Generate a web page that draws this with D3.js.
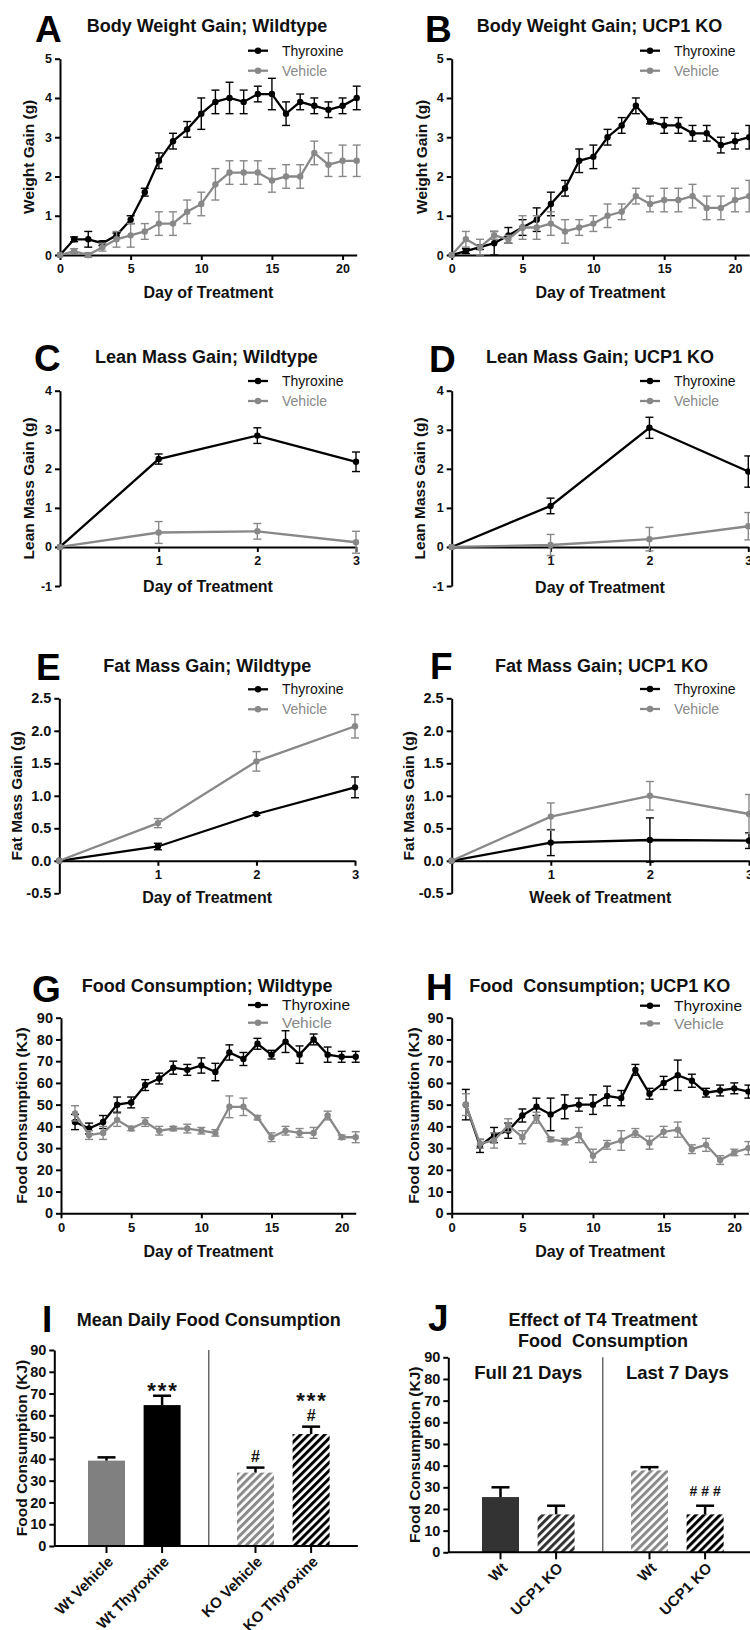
<!DOCTYPE html>
<html>
<head>
<meta charset="utf-8">
<script src="https://cdn.jsdelivr.net/npm/d3@7/dist/d3.min.js"></script>
<style>
  body { margin: 0; background: #fff; }
  svg { display: block; font-family: "Liberation Sans", Arial, sans-serif; }
</style>
</head>
<body>
<svg id="canvas" width="750" height="1630"></svg>
<script>
const canvas = d3.select("#canvas");

// ---- data ----
const days0 = [0,1,2,3,4,5,6,7,8,9,10,11,12,13,14,15,16,17,18,19,20,21];
const days1 = [1,2,3,4,5,6,7,8,9,10,11,12,13,14,15,16,17,18,19,20,21];
const weeks = [0,1,2,3];

// A: body weight gain, wildtype
const aThy    = [0,0.4,0.4,0.3,0.5,0.9,1.6,2.4,2.9,3.2,3.6,3.9,4.0,3.9,4.1,4.1,3.6,3.9,3.8,3.7,3.8,4.0];
const aThyErr = [0,0.06,0.2,0.06,0.06,0.1,0.1,0.2,0.2,0.2,0.4,0.3,0.4,0.3,0.2,0.4,0.3,0.2,0.2,0.2,0.2,0.3];
const aVeh    = [0,0.1,0,0.2,0.4,0.5,0.6,0.8,0.8,1.1,1.3,1.8,2.1,2.1,2.1,1.9,2.0,2.0,2.6,2.3,2.4,2.4];
const aVehErr = [0,0.06,0.06,0.1,0.2,0.3,0.2,0.3,0.3,0.3,0.3,0.4,0.3,0.3,0.3,0.3,0.3,0.3,0.3,0.3,0.4,0.4];

// B: body weight gain, UCP1 KO
const bThy    = [0,0.1,0.2,0.3,0.5,0.7,0.9,1.3,1.7,2.4,2.5,3.0,3.3,3.8,3.4,3.3,3.3,3.1,3.1,2.8,2.9,3.0];
const bThyErr = [0,0.06,0.06,0.3,0.2,0.2,0.3,0.3,0.2,0.3,0.3,0.2,0.2,0.2,0.06,0.2,0.2,0.2,0.2,0.2,0.2,0.3];
const bVeh    = [0,0.4,0.2,0.5,0.4,0.7,0.7,0.8,0.6,0.7,0.8,1.0,1.1,1.5,1.3,1.4,1.4,1.5,1.2,1.2,1.4,1.5];
const bVehErr = [0,0.2,0.2,0.1,0.1,0.3,0.3,0.3,0.3,0.2,0.2,0.3,0.2,0.2,0.2,0.3,0.3,0.3,0.3,0.3,0.3,0.4];

// C: lean mass gain, wildtype
const cThy    = [0,2.25,2.85,2.18];
const cThyErr = [0,0.13,0.2,0.25];
const cVeh    = [0,0.37,0.4,0.12];
const cVehErr = [0,0.28,0.2,0.28];

// D: lean mass gain, UCP1 KO
const dThy    = [0,1.05,3.05,1.93];
const dThyErr = [0,0.2,0.27,0.4];
const dVeh    = [0,0.05,0.2,0.53];
const dVehErr = [0,0.27,0.3,0.35];

// E: fat mass gain, wildtype
const eThy    = [0,0.22,0.72,1.13];
const eThyErr = [0,0.05,0.02,0.16];
const eVeh    = [0,0.58,1.53,2.07];
const eVehErr = [0,0.07,0.15,0.18];

// F: fat mass gain, UCP1 KO
const fThy    = [0,0.28,0.32,0.31];
const fThyErr = [0,0.2,0.34,0.12];
const fVeh    = [0,0.68,1.0,0.72];
const fVehErr = [0,0.21,0.22,0.3];

// G: food consumption, wildtype
const gThy    = [42,39,42,50,51,59,62,67,66,68,65,74,71,78,73,79,73,80,73,72,72];
const gThyErr = [3.5,2.5,3,3.5,2.5,2.5,2.5,3,2.5,3.5,4,3.5,3,2.5,2,5,4,2.5,3.5,2.5,2.5];
const gVeh    = [46,36,37,43,39,42,38,39,39,38,37,49,49,44,35,38,37,37,45,35,35];
const gVehErr = [3.5,2,3,3,1,2,2,1,2,1.5,1.5,5,4,1,2,2,2,2.5,2,1,2.5];

// H: food consumption, UCP1 KO
const hThy    = [50,31,36,38,45,49,45.5,49,50,50,54,53,66,55,60,63.5,61,55.5,56.5,57.5,56];
const hThyErr = [7,3,3.5,3.5,3,4,7.5,5.5,3,4.5,4.5,3.5,2.5,2.5,3,7,3,2,2.5,2.5,3];
const hVeh    = [50,32,33.5,40.5,35,44,34,33,36,26.5,31.5,33.5,37,32.5,37.5,38.5,29.5,31.5,24.5,28,30];
const hVehErr = [5,2,3.5,3,3,2.5,1,1.5,3.5,3,2,4.5,2,3,2.5,3.5,2,3,2,1.5,3];

// I: mean daily food consumption
const iLabels = ["Wt Vehicle", "Wt Thyroxine", "KO Vehicle", "KO Thyroxine"];
const iGroups = ["Wt", "Wt", "KO", "KO"];
const iTreat  = ["Vehicle", "Thyroxine", "Vehicle", "Thyroxine"];
const iMeans  = [39.2, 64.7, 33.7, 51.4];
const iErrs   = [1.5, 4.3, 2.3, 3.4];
const iStars  = ["", "***", "", "***"];
const iHash   = ["", "", "#", "#"];

// J: effect of T4 treatment
const jLabels = ["Wt", "UCP1 KO", "Wt", "UCP1 KO"];
const jGroups = ["Full 21 Days", "Full 21 Days", "Last 7 Days", "Last 7 Days"];
const jMeans  = [25.5, 17.5, 37.8, 17.5];
const jErrs   = [4.5, 4, 1.5, 4];
const jHash   = ["", "", "", "###"];

const yTicks5  = [0,1,2,3,4,5];
const yTicks4  = [-1,0,1,2,3,4];
const yTicksF  = [-0.5,0,0.5,1,1.5,2,2.5];
const yTicks90 = [0,10,20,30,40,50,60,70,80,90];
const xTicks21 = [0,5,10,15,20];
const xTicks3  = [1,2,3];

const BLACK = "#000";
const GREY = "#888";

// plain hyphen minus, like the original figure
const fmtInt = d => String(d);
const fmtOne = d => d.toFixed(1);

// ---- helpers ----
function styleAxis(sel, fs) {
  sel.attr("font-family", null).attr("font-size", fs);
  sel.select(".domain").attr("stroke", "#000").attr("stroke-width", 2);
  sel.selectAll(".tick line").attr("stroke", "#000").attr("stroke-width", 2);
  sel.selectAll(".tick text").attr("font-weight", "bold").attr("fill", "#111");
}

function panelHeading(p) {
  canvas.append("text")
    .attr("x", p.letterX).attr("y", p.letterY)
    .attr("font-size", 37).attr("font-weight", "bold")
    .text(p.letter);
  const lines = [].concat(p.title);
  lines.forEach((t, k) => {
    canvas.append("text")
      .attr("x", p.titleX).attr("y", p.titleY + k * 20.7)
      .attr("text-anchor", p.titleAnchor || "start")
      .attr("font-size", 18).attr("font-weight", "bold").attr("fill", "#111")
      .attr("xml:space", "preserve")
      .text(t);
  });
}

function yTitle(x, y, text) {
  canvas.append("text")
    .attr("transform", `translate(${x},${y}) rotate(-90)`)
    .attr("text-anchor", "middle").attr("dy", "0.35em")
    .attr("font-size", 15.5).attr("font-weight", "bold").attr("fill", "#111")
    .text(text);
}

function drawLinePanel(p) {
  const x = d3.scaleLinear().domain(p.xDomain).range([p.left, p.right]);
  const y = d3.scaleLinear().domain(p.yDomain).range([p.bottom, p.top]);

  panelHeading(p);

  const ya = canvas.append("g")
    .attr("transform", `translate(${p.left},0)`)
    .call(d3.axisLeft(y).tickValues(p.yTicks).tickFormat(p.yFmt || fmtInt)
      .tickSize(5).tickSizeOuter(0).tickPadding(3));
  styleAxis(ya, p.yTickSize);

  const xa = canvas.append("g")
    .attr("transform", `translate(0,${y(0)})`)
    .call(d3.axisBottom(x).tickValues(p.xTicks).tickFormat(fmtInt)
      .tickSize(5).tickSizeOuter(0).tickPadding(4));
  styleAxis(xa, p.xTickSize);

  p.series.forEach(s => {
    const pts = s.mean.map((m, i) => ({ x: s.x[i], m: m, e: s.err[i] }));
    const g = canvas.append("g");
    g.append("path")
      .datum(pts)
      .attr("fill", "none").attr("stroke", s.color).attr("stroke-width", 2.3)
      .attr("d", d3.line().x(d => x(d.x)).y(d => y(d.m)));
    const eb = g.selectAll("g.err").data(pts.filter(d => d.e > 0)).enter().append("g")
      .attr("stroke", s.color).attr("stroke-width", 1.4);
    eb.append("line")
      .attr("x1", d => x(d.x)).attr("x2", d => x(d.x))
      .attr("y1", d => y(d.m - d.e)).attr("y2", d => y(d.m + d.e));
    eb.append("line")
      .attr("x1", d => x(d.x) - 4).attr("x2", d => x(d.x) + 4)
      .attr("y1", d => y(d.m + d.e)).attr("y2", d => y(d.m + d.e));
    eb.append("line")
      .attr("x1", d => x(d.x) - 4).attr("x2", d => x(d.x) + 4)
      .attr("y1", d => y(d.m - d.e)).attr("y2", d => y(d.m - d.e));
    g.selectAll("circle").data(pts).enter().append("circle")
      .attr("cx", d => x(d.x)).attr("cy", d => y(d.m)).attr("r", 3.2)
      .attr("fill", s.color);
  });

  // legend
  p.series.forEach((s, k) => {
    const ly = p.legendY + k * p.legendGap;
    canvas.append("line")
      .attr("x1", p.legendX).attr("x2", p.legendX + 20)
      .attr("y1", ly).attr("y2", ly)
      .attr("stroke", s.color).attr("stroke-width", 2.3);
    canvas.append("circle")
      .attr("cx", p.legendX + 10).attr("cy", ly).attr("r", 3.2).attr("fill", s.color);
    canvas.append("text")
      .attr("x", p.legendX + 34).attr("y", ly).attr("dy", "0.35em")
      .attr("font-size", p.legendSize).attr("fill", s.color === BLACK ? "#111" : GREY)
      .text(s.name);
  });

  canvas.append("text")
    .attr("x", (p.left + p.right) / 2).attr("y", p.xTitleY)
    .attr("text-anchor", "middle")
    .attr("font-size", 16).attr("font-weight", "bold").attr("fill", "#111")
    .text(p.xTitle);

  yTitle(p.yTitleX, (p.top + p.bottom) / 2, p.yTitle);
}

// stripe patterns
const defs = canvas.append("defs");
function stripe(id, color) {
  const pat = defs.append("pattern")
    .attr("id", id).attr("patternUnits", "userSpaceOnUse")
    .attr("width", 5.7).attr("height", 5.7)
    .attr("patternTransform", "rotate(45)");
  pat.append("rect").attr("width", 5.7).attr("height", 5.7).attr("fill", "#fff");
  pat.append("rect").attr("width", 3).attr("height", 5.7).attr("fill", color);
}
stripe("stripeGrey", "#8a8a8a");
stripe("stripeBlack", "#000");
stripe("stripeDark", "#333");

function drawBarPanel(p) {
  const y = d3.scaleLinear().domain([0, 90]).range([p.bottom, p.top]);
  const groups = Array.from(new Set(p.groups));
  const gx = d3.scaleBand().domain(groups).range([p.left + 5.5, p.left + 303.5]);
  const inner = d3.scalePoint().domain(Array.from(new Set(p.inner))).range([-27.8, 27.8]);
  const cx = i => gx(p.groups[i]) + gx.bandwidth() / 2 + inner(p.inner[i]);
  const bw = 37;

  panelHeading(p);

  const ya = canvas.append("g")
    .attr("transform", `translate(${p.left},0)`)
    .call(d3.axisLeft(y).tickValues(yTicks90).tickFormat(fmtInt)
      .tickSize(5).tickSizeOuter(0).tickPadding(3));
  styleAxis(ya, 14.5);

  // divider between groups
  canvas.append("line")
    .attr("x1", gx(groups[1])).attr("x2", gx(groups[1]))
    .attr("y1", y(90)).attr("y2", y(0))
    .attr("stroke", "#444").attr("stroke-width", 1.2);

  const idx = p.means.map((m, i) => i);
  // bars
  canvas.selectAll(null).data(idx).enter().append("rect")
    .attr("x", i => cx(i) - bw / 2).attr("width", bw)
    .attr("y", i => y(p.means[i])).attr("height", i => y(0) - y(p.means[i]))
    .attr("fill", i => p.fills[i]);
  // error bars (upper only)
  const eb = canvas.selectAll(null).data(idx).enter().append("g")
    .attr("stroke", "#000").attr("stroke-width", 2.5);
  eb.append("line")
    .attr("x1", i => cx(i)).attr("x2", i => cx(i))
    .attr("y1", i => y(p.means[i])).attr("y2", i => y(p.means[i] + p.errs[i]));
  eb.append("line")
    .attr("x1", i => cx(i) - 9).attr("x2", i => cx(i) + 9)
    .attr("y1", i => y(p.means[i] + p.errs[i])).attr("y2", i => y(p.means[i] + p.errs[i]));

  // x axis line and ticks
  canvas.append("line")
    .attr("x1", p.left).attr("x2", gx.range()[1])
    .attr("y1", y(0)).attr("y2", y(0))
    .attr("stroke", "#000").attr("stroke-width", 2);
  canvas.selectAll(null).data(idx).enter().append("line")
    .attr("x1", i => cx(i)).attr("x2", i => cx(i))
    .attr("y1", y(0)).attr("y2", y(0) + 7)
    .attr("stroke", "#000").attr("stroke-width", 2);
  canvas.selectAll(null).data(idx).enter().append("text")
    .attr("transform", i => `translate(${cx(i) + 4},${y(0) + 13}) rotate(-45)`)
    .attr("text-anchor", "end").attr("dy", "0.35em")
    .attr("font-size", 15).attr("font-weight", "bold").attr("fill", "#111")
    .text(i => p.labels[i]);

  // significance marks
  idx.forEach(i => {
    const capY = y(p.means[i] + p.errs[i]);
    let base = capY - 5.5;
    if (p.hash[i]) {
      const multi = p.hash[i].length > 1;
      const ls = multi ? 4 : 0;
      canvas.append("text")
        .attr("x", cx(i) + ls / 2).attr("y", multi ? capY - 10 : base)
        .attr("text-anchor", "middle").attr("letter-spacing", ls)
        .attr("font-size", multi ? 14 : 16).attr("font-weight", "bold").attr("fill", "#111")
        .text(p.hash[i]);
      base = base - 13.5;
    } else {
      base = capY + 2;
    }
    if (p.stars && p.stars[i]) {
      canvas.append("text")
        .attr("x", cx(i) + 1).attr("y", base)
        .attr("text-anchor", "middle").attr("letter-spacing", 2)
        .attr("font-size", 22).attr("font-weight", "bold").attr("fill", "#111")
        .text(p.stars[i]);
    }
  });

  if (p.groupLabels) {
    groups.forEach(gname => {
      canvas.append("text")
        .attr("x", gx(gname) + gx.bandwidth() / 2).attr("y", p.groupLabelY)
        .attr("text-anchor", "middle")
        .attr("font-size", 18.5).attr("font-weight", "bold").attr("fill", "#111")
        .text(gname);
    });
  }

  yTitle(p.yTitleX, (p.top + p.bottom) / 2, "Food Consumption (KJ)");
}

// ---- panels ----
drawLinePanel({
  letter: "A", letterX: 35, letterY: 42, title: "Body Weight Gain; Wildtype", titleX: 86.7, titleY: 32.3,
  left: 60, right: 356.7, top: 58.7, bottom: 255, xDomain: [0, 21], yDomain: [0, 5],
  xTicks: xTicks21, yTicks: yTicks5, xTickSize: 12.5, yTickSize: 12.5,
  legendX: 248, legendY: 50.7, legendGap: 20, legendSize: 14,
  xTitle: "Day of Treatment", xTitleY: 298, yTitle: "Weight Gain (g)", yTitleX: 28.3,
  series: [
    { name: "Thyroxine", x: days0, mean: aThy, err: aThyErr, color: BLACK },
    { name: "Vehicle", x: days0, mean: aVeh, err: aVehErr, color: GREY }
  ]
});

drawLinePanel({
  letter: "B", letterX: 425, letterY: 42, title: "Body Weight Gain; UCP1 KO", titleX: 476.7, titleY: 32.3,
  left: 451.7, right: 749.2, top: 58.7, bottom: 255, xDomain: [0, 21], yDomain: [0, 5],
  xTicks: xTicks21, yTicks: yTicks5, xTickSize: 12.5, yTickSize: 12.5,
  legendX: 640, legendY: 50.7, legendGap: 20, legendSize: 14,
  xTitle: "Day of Treatment", xTitleY: 298, yTitle: "Weight Gain (g)", yTitleX: 421.7,
  series: [
    { name: "Thyroxine", x: days0, mean: bThy, err: bThyErr, color: BLACK },
    { name: "Vehicle", x: days0, mean: bVeh, err: bVehErr, color: GREY }
  ]
});

drawLinePanel({
  letter: "C", letterX: 34, letterY: 370.7, title: "Lean Mass Gain; Wildtype", titleX: 95, titleY: 363.3,
  left: 60, right: 356, top: 390.7, bottom: 586, xDomain: [0, 3], yDomain: [-1, 4],
  xTicks: xTicks3, yTicks: yTicks4, xTickSize: 12.5, yTickSize: 12.5,
  legendX: 248, legendY: 381, legendGap: 20, legendSize: 14,
  xTitle: "Day of Treatment", xTitleY: 591.7, yTitle: "Lean Mass Gain (g)", yTitleX: 28.3,
  series: [
    { name: "Thyroxine", x: weeks, mean: cThy, err: cThyErr, color: BLACK },
    { name: "Vehicle", x: weeks, mean: cVeh, err: cVehErr, color: GREY }
  ]
});

drawLinePanel({
  letter: "D", letterX: 429, letterY: 371.7, title: "Lean Mass Gain; UCP1 KO", titleX: 486, titleY: 363.3,
  left: 451.7, right: 748.3, top: 390.7, bottom: 586, xDomain: [0, 3], yDomain: [-1, 4],
  xTicks: xTicks3, yTicks: yTicks4, xTickSize: 12.5, yTickSize: 12.5,
  legendX: 640, legendY: 381, legendGap: 20, legendSize: 14,
  xTitle: "Day of Treatment", xTitleY: 592.7, yTitle: "Lean Mass Gain (g)", yTitleX: 420,
  series: [
    { name: "Thyroxine", x: weeks, mean: dThy, err: dThyErr, color: BLACK },
    { name: "Vehicle", x: weeks, mean: dVeh, err: dVehErr, color: GREY }
  ]
});

drawLinePanel({
  letter: "E", letterX: 36, letterY: 680, title: "Fat Mass Gain; Wildtype", titleX: 103.3, titleY: 671.7,
  left: 59.3, right: 355, top: 698.3, bottom: 893.3, xDomain: [0, 3], yDomain: [-0.5, 2.5],
  xTicks: xTicks3, yTicks: yTicksF, yFmt: fmtOne, xTickSize: 13, yTickSize: 14.5,
  legendX: 248, legendY: 689.3, legendGap: 20, legendSize: 14,
  xTitle: "Day of Treatment", xTitleY: 903.3, yTitle: "Fat Mass Gain (g)", yTitleX: 17,
  series: [
    { name: "Thyroxine", x: weeks, mean: eThy, err: eThyErr, color: BLACK },
    { name: "Vehicle", x: weeks, mean: eVeh, err: eVehErr, color: GREY }
  ]
});

drawLinePanel({
  letter: "F", letterX: 430, letterY: 679.3, title: "Fat Mass Gain; UCP1 KO", titleX: 495, titleY: 671.7,
  left: 451.7, right: 749, top: 698.3, bottom: 893.3, xDomain: [0, 3], yDomain: [-0.5, 2.5],
  xTicks: xTicks3, yTicks: yTicksF, yFmt: fmtOne, xTickSize: 13, yTickSize: 14.5,
  legendX: 640, legendY: 689, legendGap: 20, legendSize: 14,
  xTitle: "Week of Treatment", xTitleY: 903.3, yTitle: "Fat Mass Gain (g)", yTitleX: 409,
  series: [
    { name: "Thyroxine", x: weeks, mean: fThy, err: fThyErr, color: BLACK },
    { name: "Vehicle", x: weeks, mean: fVeh, err: fVehErr, color: GREY }
  ]
});

drawLinePanel({
  letter: "G", letterX: 32, letterY: 1002, title: "Food Consumption; Wildtype", titleX: 81.7, titleY: 991.7,
  left: 61, right: 355.7, top: 1017.7, bottom: 1213.3, xDomain: [0, 21], yDomain: [0, 90],
  xTicks: xTicks21, yTicks: yTicks90, xTickSize: 13, yTickSize: 14.5,
  legendX: 248, legendY: 1005, legendGap: 17.7, legendSize: 15.5,
  xTitle: "Day of Treatment", xTitleY: 1256.7, yTitle: "Food Consumption (KJ)", yTitleX: 21.7,
  series: [
    { name: "Thyroxine", x: days1, mean: gThy, err: gThyErr, color: BLACK },
    { name: "Vehicle", x: days1, mean: gVeh, err: gVehErr, color: GREY }
  ]
});

drawLinePanel({
  letter: "H", letterX: 426, letterY: 1000, title: "Food  Consumption; UCP1 KO", titleX: 469.3, titleY: 991.7,
  left: 451.7, right: 748.4, top: 1017.7, bottom: 1213.3, xDomain: [0, 21], yDomain: [0, 90],
  xTicks: xTicks21, yTicks: yTicks90, xTickSize: 13, yTickSize: 14.5,
  legendX: 640, legendY: 1005.7, legendGap: 17.7, legendSize: 15.5,
  xTitle: "Day of Treatment", xTitleY: 1256.7, yTitle: "Food Consumption (KJ)", yTitleX: 413.3,
  series: [
    { name: "Thyroxine", x: days1, mean: hThy, err: hThyErr, color: BLACK },
    { name: "Vehicle", x: days1, mean: hVeh, err: hVehErr, color: GREY }
  ]
});

drawBarPanel({
  letter: "I", letterX: 42, letterY: 1331.7, title: "Mean Daily Food Consumption", titleX: 76.7, titleY: 1326,
  left: 54.3, top: 1350, bottom: 1546, yTitleX: 21.7,
  labels: iLabels, groups: iGroups, inner: iTreat, means: iMeans, errs: iErrs,
  stars: iStars, hash: iHash,
  fills: ["#808080", "#000", "url(#stripeGrey)", "url(#stripeBlack)"]
});

drawBarPanel({
  letter: "J", letterX: 428, letterY: 1331, title: ["Effect of T4 Treatment", "Food  Consumption"],
  titleX: 603, titleY: 1326, titleAnchor: "middle",
  left: 448.3, top: 1357.3, bottom: 1552.3, yTitleX: 415,
  labels: jLabels, groups: jGroups, inner: jLabels, means: jMeans, errs: jErrs,
  hash: jHash, groupLabels: true, groupLabelY: 1379,
  fills: ["#333", "url(#stripeDark)", "url(#stripeGrey)", "url(#stripeBlack)"]
});
</script>
</body>
</html>
